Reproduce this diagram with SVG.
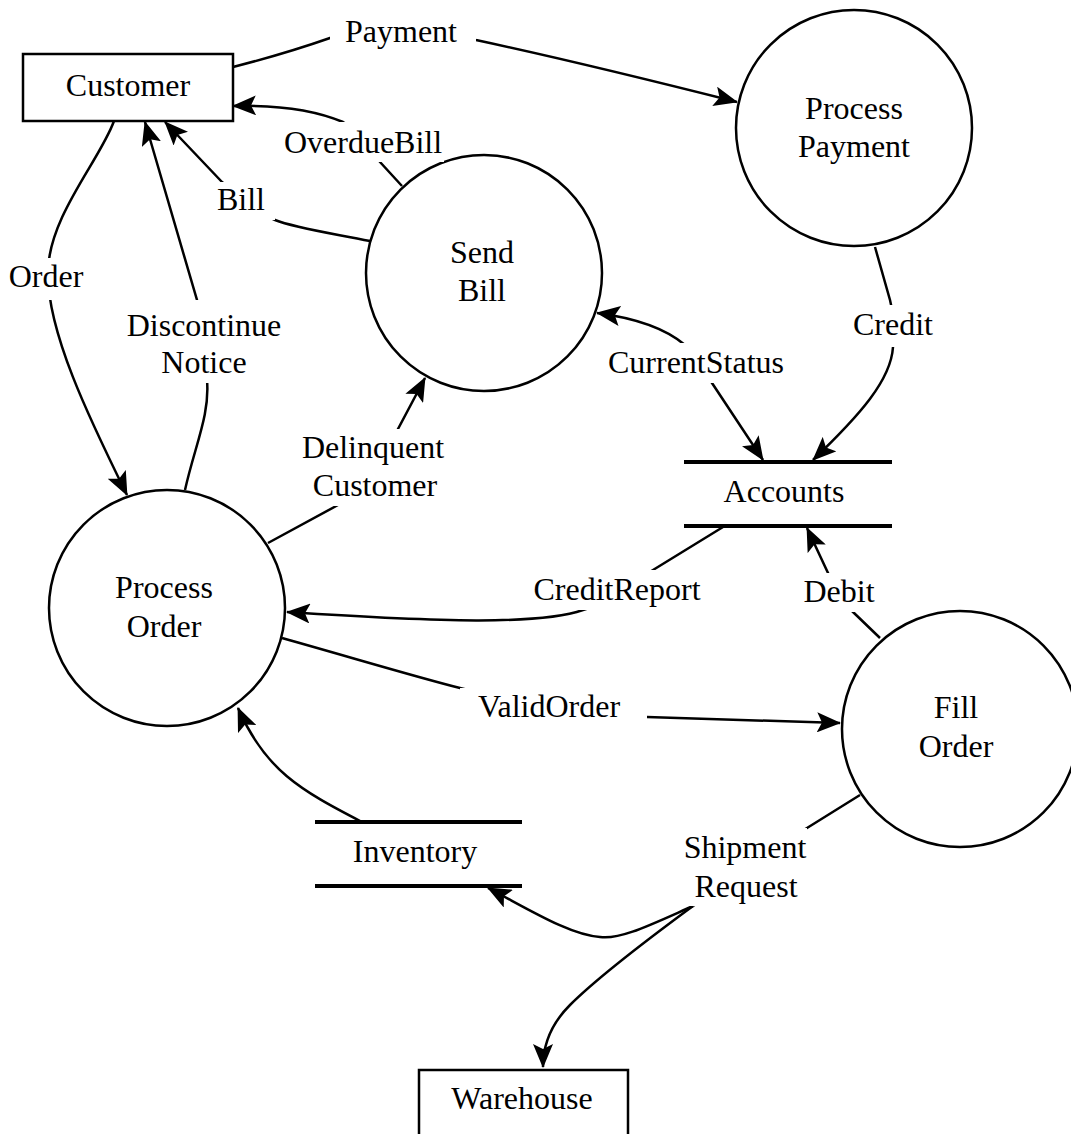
<svg xmlns="http://www.w3.org/2000/svg" width="1071" height="1134" viewBox="0 0 1071 1134">
<style>
text{font-family:"Liberation Serif","Times New Roman",serif;font-size:32px;fill:#000;text-anchor:middle}
.proc{fill:#fff;stroke:#000;stroke-width:2.5}
.ext{fill:#fff;stroke:#000;stroke-width:2.5}
.store{stroke:#000;stroke-width:4}
.flow{fill:none;stroke:#000;stroke-width:2.5}
.lbg{fill:#fff}
</style>
<defs>
<marker id="ah" viewBox="0 0 24 20" refX="23" refY="10" markerWidth="24" markerHeight="20" markerUnits="userSpaceOnUse" orient="auto-start-reverse">
<path d="M0,0 L24,10 L0,20 L5,10 z" fill="#000"/>
</marker>
</defs>
<rect width="1071" height="1134" fill="#fff"/>

<g id="customer"><rect class="ext" x="23" y="54" width="210" height="67"/><text x="128" y="96">Customer</text></g>
<g id="warehouse"><rect class="ext" x="419" y="1070" width="209" height="100"/><text x="522" y="1109">Warehouse</text></g>
<g id="process-payment"><circle class="proc" cx="854" cy="128" r="118"/><text x="854" y="119">Process</text><text x="854" y="157">Payment</text></g>
<g id="send-bill"><circle class="proc" cx="484" cy="273" r="118"/><text x="482" y="263">Send</text><text x="482" y="301">Bill</text></g>
<g id="process-order"><circle class="proc" cx="167" cy="608" r="118"/><text x="164" y="598">Process</text><text x="164" y="637">Order</text></g>
<g id="fill-order"><circle class="proc" cx="960" cy="729" r="118"/><text x="956" y="718">Fill</text><text x="956" y="757">Order</text></g>
<g id="accounts"><line class="store" x1="684" y1="462" x2="892" y2="462"/><line class="store" x1="684" y1="526" x2="892" y2="526"/><text x="784" y="502">Accounts</text></g>
<g id="inventory"><line class="store" x1="315" y1="822" x2="522" y2="822"/><line class="store" x1="315" y1="886" x2="522" y2="886"/><text x="415" y="862">Inventory</text></g>

<g id="connectors">
<path class="flow" marker-end="url(#ah)" d="M233,67 C280,55 310,45 330,38 C370,25 440,30 476,40 C560,58 650,80 737,102"/>
<path class="flow" marker-end="url(#ah)" d="M402,186 L380,162 C368,148 358,130 343,122 C310,108 270,105 233,106"/>
<path class="flow" marker-end="url(#ah)" d="M370,241 C330,233 295,228 275,220 C255,212 235,195 222,182 L165,122"/>
<path class="flow" marker-end="url(#ah)" d="M114,121 C100,160 50,215 48,270 C46,330 90,420 127,495"/>
<path class="flow" marker-end="url(#ah)" d="M185,490 C195,445 210,415 207,380 C205,350 200,320 197,300 L145,122"/>
<path class="flow" marker-end="url(#ah)" d="M268,543 L338,505 C365,490 385,460 398,429 L425,378"/>
<path class="flow" marker-start="url(#ah)" marker-end="url(#ah)" d="M597,313 C635,318 665,328 685,345 C700,358 705,372 712,383 L763,460"/>
<path class="flow" marker-end="url(#ah)" d="M875,247 L890,300 C895,320 894,335 893,347 C891,380 860,415 813,460"/>
<path class="flow" marker-end="url(#ah)" d="M723,527 L653,570 C620,590 600,605 583,610 C540,625 440,622 287,612"/>
<path class="flow" marker-end="url(#ah)" d="M880,638 L853,612 C840,600 833,588 828,573 L807,528"/>
<path class="flow" marker-end="url(#ah)" d="M282,638 C360,660 420,678 460,688 C520,703 580,716 647,717 L840,723"/>
<path class="flow" marker-end="url(#ah)" d="M362,822 C300,790 265,770 238,708"/>
<path class="flow" d="M860,795 L807,828 C770,850 720,890 693,906"/>
<path class="flow" marker-end="url(#ah)" d="M693,906 C650,925 620,940 600,937 C570,935 530,910 488,888"/>
<path class="flow" marker-end="url(#ah)" d="M693,906 C640,945 590,985 570,1005 C550,1025 543,1045 543,1067"/>

<rect class="lbg" x="330" y="12" width="146" height="42"/><text x="401" y="42">Payment</text>
<rect class="lbg" x="282" y="122" width="162" height="40"/><text x="363" y="153">OverdueBill</text>
<rect class="lbg" x="212" y="182" width="63" height="38"/><text x="241" y="210">Bill</text>
<rect class="lbg" x="8" y="258" width="78" height="42"/><text x="46" y="287">Order</text>
<rect class="lbg" x="124" y="300" width="160" height="83"/><text x="204" y="336">Discontinue</text><text x="204" y="373">Notice</text>
<rect class="lbg" x="298" y="429" width="150" height="77"/><text x="373" y="458">Delinquent</text><text x="375" y="496">Customer</text>
<rect class="lbg" x="605" y="343" width="182" height="40"/><text x="696" y="373">CurrentStatus</text>
<rect class="lbg" x="852" y="305" width="82" height="42"/><text x="893" y="335">Credit</text>
<rect class="lbg" x="532" y="570" width="171" height="40"/><text x="617" y="600">CreditReport</text>
<rect class="lbg" x="801" y="573" width="76" height="39"/><text x="839" y="602">Debit</text>
<rect class="lbg" x="460" y="688" width="187" height="39"/><text x="549" y="717">ValidOrder</text>
<rect class="lbg" x="680" y="828" width="127" height="78"/><text x="745" y="858">Shipment</text><text x="746" y="897">Request</text>
</g>
</svg>
